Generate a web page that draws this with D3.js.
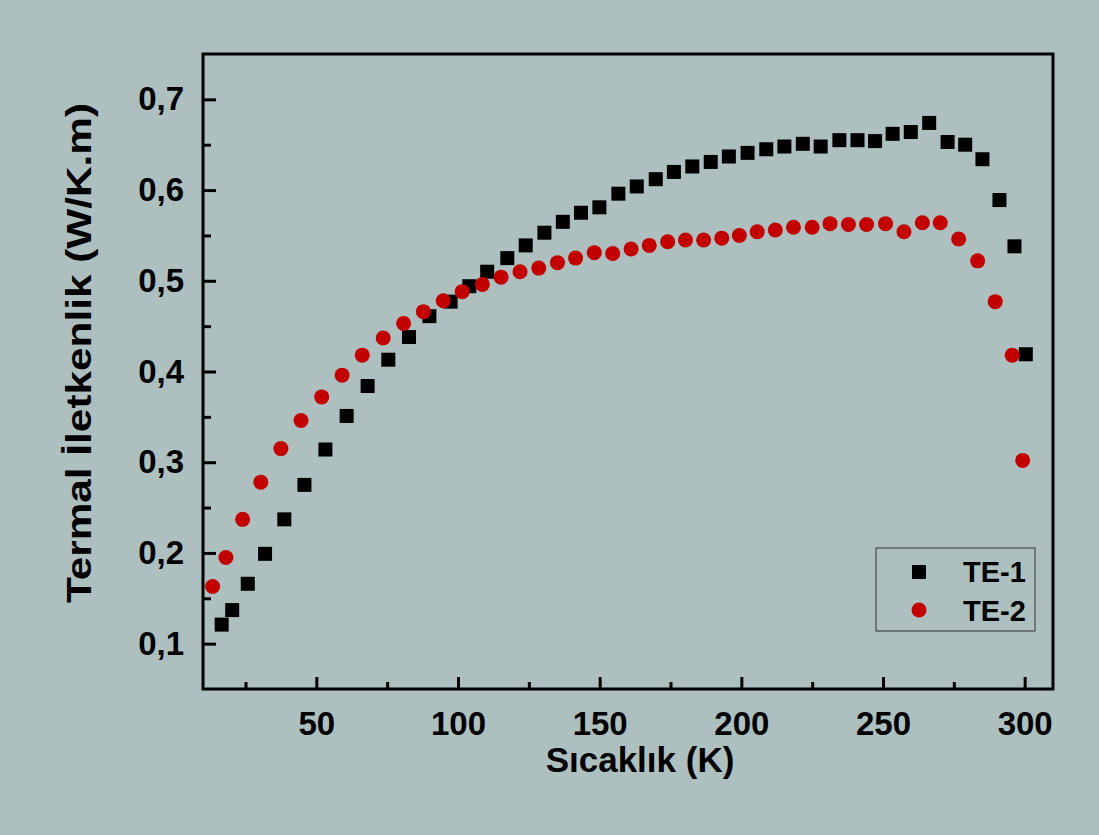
<!DOCTYPE html>
<html>
<head>
<meta charset="utf-8">
<script src="https://cdn.jsdelivr.net/npm/d3@7/dist/d3.min.js"></script>
<style>
  html, body { margin: 0; padding: 0; background: #adbfbf; }
  svg { display: block; }
  text { font-family: "Liberation Sans", Arial, sans-serif; font-weight: bold; fill: #000; }
</style>
</head>
<body>
<svg id="chart" width="1099" height="835"></svg>
<script>
// ---- data ----
const te1T = [16.6, 20.3, 25.8, 31.9, 38.7, 45.8, 53.2, 60.7, 68.1, 75.4, 82.7, 89.9, 97.4, 104.0, 110.3, 117.4, 123.9, 130.5, 137.0, 143.4, 149.9, 156.6, 163.1, 169.8, 176.2, 182.7, 189.2, 195.6, 202.2, 208.8, 215.2, 221.7, 228.0, 234.6, 241.0, 247.2, 253.4, 259.8, 266.3, 272.8, 279.0, 285.1, 291.1, 296.4, 300.4];
const te1K = [0.121, 0.137, 0.166, 0.199, 0.237, 0.275, 0.314, 0.351, 0.384, 0.413, 0.438, 0.461, 0.477, 0.494, 0.510, 0.525, 0.539, 0.553, 0.565, 0.575, 0.581, 0.596, 0.604, 0.612, 0.620, 0.626, 0.631, 0.637, 0.641, 0.645, 0.648, 0.651, 0.648, 0.655, 0.655, 0.654, 0.662, 0.664, 0.674, 0.653, 0.650, 0.634, 0.589, 0.538, 0.419];
const te2T = [13.4, 18.1, 24.0, 30.4, 37.5, 44.6, 51.9, 59.1, 66.2, 73.6, 80.8, 87.8, 94.8, 101.5, 108.6, 115.2, 121.9, 128.5, 135.1, 141.5, 148.1, 154.6, 161.1, 167.5, 174.0, 180.3, 186.7, 193.1, 199.3, 205.6, 212.0, 218.4, 225.0, 231.3, 237.8, 244.2, 250.9, 257.4, 263.9, 270.2, 276.7, 283.4, 289.6, 295.6, 299.3];
const te2K = [0.163, 0.195, 0.237, 0.278, 0.315, 0.346, 0.372, 0.396, 0.418, 0.437, 0.453, 0.466, 0.478, 0.488, 0.496, 0.504, 0.510, 0.514, 0.520, 0.525, 0.531, 0.530, 0.535, 0.539, 0.543, 0.545, 0.545, 0.547, 0.550, 0.554, 0.556, 0.559, 0.559, 0.563, 0.562, 0.562, 0.563, 0.554, 0.564, 0.564, 0.546, 0.522, 0.477, 0.418, 0.302];
const xMajorTicks = [50, 100, 150, 200, 250, 300];
const xMinorTicks = [25, 75, 125, 175, 225, 275];
const yMajorTicks = [0.1, 0.2, 0.3, 0.4, 0.5, 0.6, 0.7];
const yMinorTicks = [0.15, 0.25, 0.35, 0.45, 0.55, 0.65];
const seriesNames = ["TE-1", "TE-2"];
const xTitle = "Sıcaklık (K)";
const yTitle = "Termal İletkenlik (W/K.m)";

// ---- layout ----
const L = 203, R = 1053, T = 54, B = 689;
const svg = d3.select("#chart");
svg.append("rect").attr("width", 1099).attr("height", 835).attr("fill", "#adbfbf");

const x = d3.scaleLinear().domain([10, 310]).range([L, R]);
const y = d3.scaleLinear().domain([0.05, 0.75]).range([B, T]);

const fmtY = d => d3.format(".1f")(d).replace(".", ",");

// minor ticks
svg.append("g").attr("transform", `translate(0,${B})`)
  .call(d3.axisBottom(x).tickValues(xMinorTicks).tickSize(-7).tickFormat(""))
  .call(g => g.select(".domain").remove())
  .call(g => g.selectAll("line").attr("stroke", "#000").attr("stroke-width", 3));
svg.append("g").attr("transform", `translate(${L},0)`)
  .call(d3.axisLeft(y).tickValues(yMinorTicks).tickSize(-8).tickFormat(""))
  .call(g => g.select(".domain").remove())
  .call(g => g.selectAll("line").attr("stroke", "#000").attr("stroke-width", 3));

// major ticks
const gx = svg.append("g").attr("transform", `translate(0,${B})`)
  .call(d3.axisBottom(x).tickValues(xMajorTicks).tickSize(-12).tickPadding(23).tickFormat(d3.format("d")));
gx.select(".domain").remove();
gx.selectAll("line").attr("stroke", "#000").attr("stroke-width", 3);
gx.selectAll("text").attr("font-size", 33).attr("font-family", "Liberation Sans, Arial, sans-serif").attr("font-weight", "bold").attr("fill", "#000");

const gy = svg.append("g").attr("transform", `translate(${L},0)`)
  .call(d3.axisLeft(y).tickValues(yMajorTicks).tickSize(-13).tickPadding(19).tickFormat(fmtY));
gy.select(".domain").remove();
gy.selectAll("line").attr("stroke", "#000").attr("stroke-width", 3);
gy.selectAll("text").attr("font-size", 33).attr("font-family", "Liberation Sans, Arial, sans-serif").attr("font-weight", "bold").attr("fill", "#000");

// frame
svg.append("rect").attr("x", L).attr("y", T).attr("width", R - L).attr("height", B - T)
  .attr("fill", "none").attr("stroke", "#000").attr("stroke-width", 3);

// data
const d1 = te1T.map((t, i) => ({t, k: te1K[i]}));
const d2 = te2T.map((t, i) => ({t, k: te2K[i]}));
const sq = 14;
svg.append("g").selectAll("rect").data(d1).join("rect")
  .attr("x", d => x(d.t) - sq / 2).attr("y", d => y(d.k) - sq / 2)
  .attr("width", sq).attr("height", sq).attr("fill", "#000");
svg.append("g").selectAll("circle").data(d2).join("circle")
  .attr("cx", d => x(d.t)).attr("cy", d => y(d.k)).attr("r", 7.5).attr("fill", "#c20000");

// titles
svg.append("text").attr("x", 640).attr("y", 772).attr("text-anchor", "middle")
  .attr("font-size", 35).text(xTitle);
svg.append("text").attr("transform", "translate(91,353) rotate(-90)").attr("text-anchor", "middle")
  .attr("font-size", 35).attr("textLength", 500).attr("lengthAdjust", "spacingAndGlyphs").text(yTitle);

// legend
const lg = svg.append("g");
lg.append("rect").attr("x", 876).attr("y", 548).attr("width", 159).attr("height", 83)
  .attr("fill", "none").attr("stroke", "#333").attr("stroke-width", 1);
lg.append("rect").attr("x", 919 - 7).attr("y", 572 - 7).attr("width", sq).attr("height", sq).attr("fill", "#000");
lg.append("circle").attr("cx", 919).attr("cy", 610).attr("r", 7.5).attr("fill", "#c20000");
lg.append("text").attr("x", 963).attr("y", 582).attr("font-size", 29).text(seriesNames[0]);
lg.append("text").attr("x", 963).attr("y", 621).attr("font-size", 29).text(seriesNames[1]);
</script>
</body>
</html>
